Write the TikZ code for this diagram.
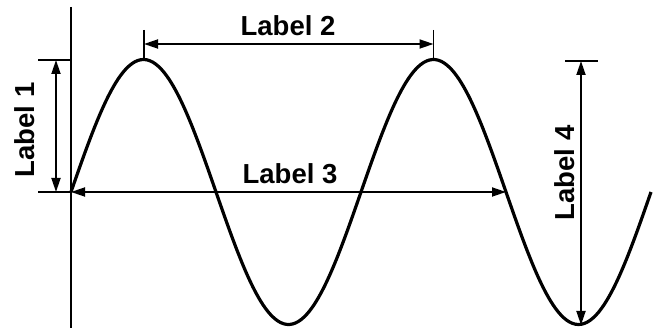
\documentclass[tikz,border=0pt]{standalone}
\usepackage{fontspec}
\setmainfont{Liberation Sans}
\usetikzlibrary{arrows.meta}
\begin{document}
\begin{tikzpicture}[x=1pt,y=-1pt,
  dim/.style={line width=1.8pt,{Triangle[length=14pt,width=9pt]}-{Triangle[length=14pt,width=9pt]}},
  tick/.style={line width=1.3pt},
  lbl/.style={font=\bfseries\fontsize{27.5}{27.5}\selectfont,inner sep=0pt}]
\useasboundingbox (0,0) rectangle (662,331);
% axis
\coordinate (axT) at (71,7);
\coordinate (axB) at (71,328);
\draw[line width=1.7pt] (axT) -- (axB);
% sine
\draw[line width=3.2pt,smooth,domain=0:580,samples=200] plot ({71+\x},{192-132.5*sin(\x/290*360)});
% key points
\coordinate (O) at (71,192);
\coordinate (P1) at (144,60);
\coordinate (P2) at (433.5,60);
\coordinate (Z) at (506,192);
\coordinate (T2) at (581,325);
% label 1
\coordinate (t1a) at (38,60);
\coordinate (t1b) at (38,192);
\coordinate (t1c) at (71,60);
\draw[tick] (t1a) -- (t1c);
\draw[tick] (t1b) -- (O);
\coordinate (a1t) at (56,60);
\coordinate (a1b) at (56,192);
\draw[dim] (a1t) -- (a1b);
\node[lbl,rotate=90] (L1) at (25,130) {Label 1};
% label 2
\coordinate (t2a) at (144,30);
\coordinate (t2b) at (433.5,30);
\coordinate (a2l) at (144,44);
\coordinate (a2r) at (433.5,44);
\draw[tick] (t2a) -- (P1);
\draw[tick] (t2b) -- (P2);
\draw[dim] (a2l) -- (a2r);
\node[lbl] (L2) at (288,26) {Label 2};
% label 3
\draw[dim] (O) -- (Z);
\node[lbl] (L3) at (290,174) {Label 3};
% label 4
\coordinate (t4a) at (565,61);
\coordinate (t4b) at (598,61);
\draw[tick] (t4a) -- (t4b);
\coordinate (a4t) at (581,61);
\draw[dim] (a4t) -- (T2);
\node[lbl,rotate=90] (L4) at (565,173) {Label 4};
\end{tikzpicture}
\end{document}
